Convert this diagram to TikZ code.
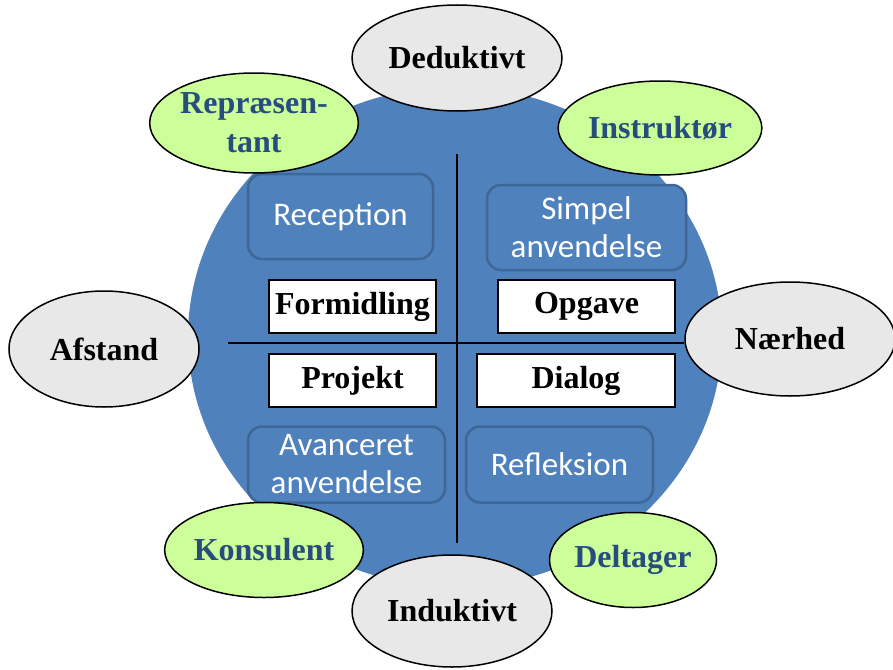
\documentclass[tikz,border=0pt]{standalone}
\usepackage{fontspec}
\setmainfont{Liberation Serif}
\newfontfamily\boxfont{Carlito}
\usetikzlibrary{shapes.geometric}
\definecolor{cblue}{HTML}{4F81BD}
\definecolor{cbord}{HTML}{3F6796}
\definecolor{cgray}{HTML}{E8E8E8}
\definecolor{cgreen}{HTML}{CCFF99}
\definecolor{ctext}{HTML}{264D7E}
\begin{document}
\begin{tikzpicture}[x=1pt,y=-1pt,
  serifbig/.style={font=\fontsize{32}{39}\selectfont\bfseries},
  grayell/.style={ellipse, draw=black, line width=1.5pt, fill=cgray, inner sep=0pt, serifbig, text=black, align=center},
  greenell/.style={ellipse, draw=black, line width=1.5pt, fill=cgreen, inner sep=0pt, serifbig, text=ctext, align=center},
  rbox/.style={rectangle, rounded corners=14pt, draw=cbord, line width=2.5pt, fill=cblue, text=white, inner sep=0pt, align=center, font=\boxfont\fontsize{33}{38}\selectfont},
  wbox/.style={rectangle, draw=black, line width=1.8pt, fill=white, inner sep=0pt, minimum height=53pt, serifbig, text=black},
  axis/.style={draw=black, line width=1.5pt}]
\useasboundingbox (0,0) rectangle (893,669);
% big blue disc
\node[ellipse, fill=cblue, minimum width=534pt, minimum height=500pt, inner sep=0pt] (disc) at (455,337) {};
% axis end points
\coordinate (hl) at (228,343);
\coordinate (vt) at (457,154);
\coordinate (vb) at (457,543);
% rounded boxes
\node[rbox, minimum width=185pt, minimum height=85pt] (recep) at (340.5,216.5) {Reception};
\node[rbox, minimum width=199pt, minimum height=85pt] (simpel) at (586.5,227.5) {Simpel\\anvendelse};
\node[rbox, minimum width=197pt, minimum height=76pt] (avanc) at (346.5,464.5) {Avanceret\\anvendelse};
\node[rbox, minimum width=187pt, minimum height=76pt] (refl) at (559.5,464.5) {Refleksion};
% white boxes
\node[wbox, minimum width=167pt] (formid) at (352.5,306.5) {Formidling};
\node[wbox, minimum width=177pt] (opgave) at (586.5,306.5) {Opgave};
\node[wbox, minimum width=167pt] (projekt) at (352.5,380.5) {Projekt};
\node[wbox, minimum width=198pt] (dialog) at (576,380.5) {Dialog};
% gray ellipses
\node[grayell, minimum width=210pt, minimum height=106pt] (dedu) at (457,58) {Deduktivt};
\node[grayell, minimum width=190pt, minimum height=116pt] (afst) at (104,349) {Afstand};
\node[grayell, minimum width=210pt, minimum height=114pt] (naer) at (790,339) {Nærhed};
\node[grayell, minimum width=200pt, minimum height=112pt] (indu) at (452,611) {Induktivt};
% green ellipses
\node[greenell, minimum width=178pt, minimum height=100pt] (repr) at (254,123) {Repræsen-\\tant};
\node[greenell, minimum width=178pt, minimum height=94pt] (instr) at (660,128) {Instruktør};
\node[greenell, minimum width=178pt, minimum height=95pt] (kons) at (264,550) {Konsulent};
\node[greenell, minimum width=167pt, minimum height=95pt] (delt) at (633,560) {Deltager};
% axis lines
\draw[axis] (hl) -- (hl -| naer.west);
\draw[axis] (vt) -- (vb);
\end{tikzpicture}
\end{document}
